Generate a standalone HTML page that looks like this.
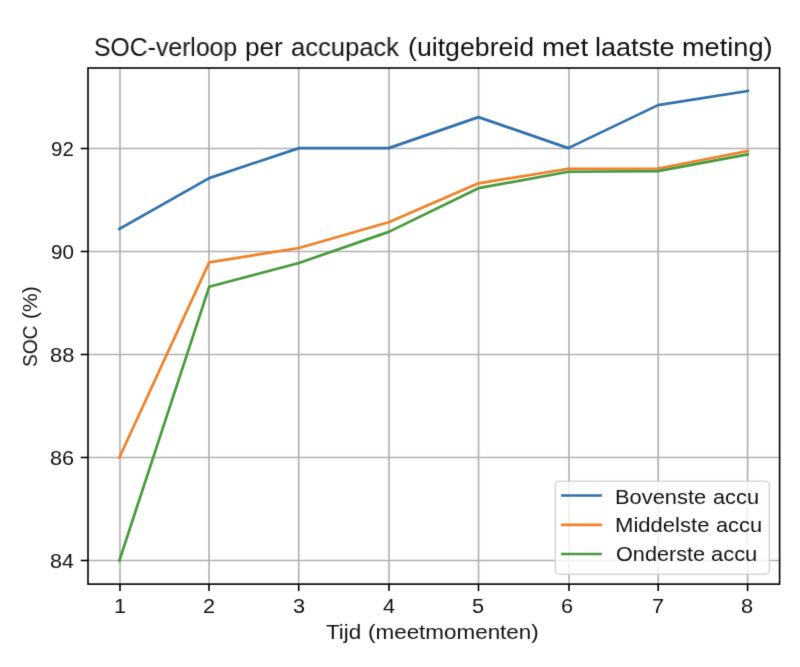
<!DOCTYPE html>
<html><head><meta charset="utf-8"><style>
html,body{margin:0;padding:0;background:#fff;}
body{width:800px;height:667px;position:relative;overflow:hidden;}
#w{position:absolute;left:0;top:0;width:800px;height:667px;background:#fff;filter:url(#soft);}
svg{position:absolute;left:0;top:0;}
.g{stroke:#b0b0b0;stroke-width:1.6;}
.d{fill:none;stroke-width:2.7;stroke-linejoin:round;stroke-linecap:square;}
.b{stroke:#2f70ac;}
.o{stroke:#f08128;}
.gr{stroke:#479a3c;}
.sp{fill:none;stroke:#000;stroke-width:1.6;stroke-linejoin:miter;stroke-linecap:square;}
.tk{stroke:#000;stroke-width:1.6;}
.lg{fill:#fff;fill-opacity:0.8;stroke:#ccc;stroke-opacity:0.8;stroke-width:1.6;}
.t{position:absolute;font-family:"Liberation Sans",sans-serif;line-height:1;white-space:nowrap;color:#111;transform-origin:0 0;will-change:transform;}
</style></head><body>
<svg width="0" height="0" style="position:absolute;left:0;top:0"><filter id="soft" x="0" y="0" width="100%" height="100%" color-interpolation-filters="sRGB"><feConvolveMatrix order="3" kernelMatrix="0.0114 0.0841 0.0114 0.0841 0.6178 0.0841 0.0114 0.0841 0.0114" divisor="1" edgeMode="duplicate" preserveAlpha="true"/></filter></svg>
<div id="w">
<svg width="800" height="667" viewBox="0 0 800 667">
<line x1="120.00" y1="68.0" x2="120.00" y2="584.1" class="g"/>
<line x1="209.00" y1="68.0" x2="209.00" y2="584.1" class="g"/>
<line x1="298.70" y1="68.0" x2="298.70" y2="584.1" class="g"/>
<line x1="389.00" y1="68.0" x2="389.00" y2="584.1" class="g"/>
<line x1="478.50" y1="68.0" x2="478.50" y2="584.1" class="g"/>
<line x1="569.00" y1="68.0" x2="569.00" y2="584.1" class="g"/>
<line x1="658.20" y1="68.0" x2="658.20" y2="584.1" class="g"/>
<line x1="747.60" y1="68.0" x2="747.60" y2="584.1" class="g"/>
<line x1="88.0" y1="560.50" x2="779.6" y2="560.50" class="g"/>
<line x1="88.0" y1="457.50" x2="779.6" y2="457.50" class="g"/>
<line x1="88.0" y1="354.50" x2="779.6" y2="354.50" class="g"/>
<line x1="88.0" y1="251.50" x2="779.6" y2="251.50" class="g"/>
<line x1="88.0" y1="148.50" x2="779.6" y2="148.50" class="g"/>
<polyline points="119.40,229.00 209.17,178.10 298.94,148.10 388.71,148.10 478.48,117.10 568.25,148.10 658.02,105.10 747.79,91.00" class="d b"/>
<polyline points="119.40,457.50 209.17,262.40 298.94,248.00 388.71,222.30 478.48,183.30 568.25,168.75 658.02,168.50 747.79,151.00" class="d o"/>
<polyline points="119.40,560.50 209.17,286.80 298.94,263.00 388.71,231.90 478.48,188.20 568.25,171.75 658.02,171.20 747.79,154.40" class="d gr"/>
<rect x="88.0" y="68.0" width="691.60" height="516.10" class="sp"/>
<line x1="120.00" y1="584.1" x2="120.00" y2="591.10" class="tk"/>
<line x1="209.00" y1="584.1" x2="209.00" y2="591.10" class="tk"/>
<line x1="298.70" y1="584.1" x2="298.70" y2="591.10" class="tk"/>
<line x1="389.00" y1="584.1" x2="389.00" y2="591.10" class="tk"/>
<line x1="478.50" y1="584.1" x2="478.50" y2="591.10" class="tk"/>
<line x1="569.00" y1="584.1" x2="569.00" y2="591.10" class="tk"/>
<line x1="658.20" y1="584.1" x2="658.20" y2="591.10" class="tk"/>
<line x1="747.60" y1="584.1" x2="747.60" y2="591.10" class="tk"/>
<line x1="80.70" y1="560.50" x2="88.0" y2="560.50" class="tk"/>
<line x1="80.70" y1="457.50" x2="88.0" y2="457.50" class="tk"/>
<line x1="80.70" y1="354.50" x2="88.0" y2="354.50" class="tk"/>
<line x1="80.70" y1="251.50" x2="88.0" y2="251.50" class="tk"/>
<line x1="80.70" y1="148.50" x2="88.0" y2="148.50" class="tk"/>
<rect x="555.3" y="481.2" width="214.0" height="93.0" rx="4" ry="4" class="lg"/>
<line x1="562.4" y1="495.5" x2="600.6" y2="495.5" class="d b"/>
<line x1="562.4" y1="524.8" x2="600.6" y2="524.8" class="d o"/>
<line x1="562.4" y1="554.0" x2="600.6" y2="554.0" class="d gr"/>
</svg>
<div class="t" style="left:94.06px;top:34.19px;font-size:26.0px;transform:scaleX(0.9528)">SOC-verloop</div>
<div class="t" style="left:245.07px;top:34.19px;font-size:26.0px;transform:scaleX(1.0068)">per</div>
<div class="t" style="left:290.88px;top:34.19px;font-size:26.0px;transform:scaleX(0.9832)">accupack</div>
<div class="t" style="left:407.80px;top:34.19px;font-size:26.0px;transform:scaleX(1.0268)">(uitgebreid</div>
<div class="t" style="left:541.56px;top:34.19px;font-size:26.0px;transform:scaleX(1.0643)">met</div>
<div class="t" style="left:595.11px;top:34.19px;font-size:26.0px;transform:scaleX(1.0397)">laatste</div>
<div class="t" style="left:682.10px;top:34.19px;font-size:26.0px;transform:scaleX(1.0445)">meting)</div>
<div class="t" style="left:326.45px;top:621.85px;font-size:20.5px;transform:scaleX(1.0935)">Tijd</div>
<div class="t" style="left:367.95px;top:621.85px;font-size:20.5px;transform:scaleX(1.0941)">(meetmomenten)</div>
<div class="t" style="left:19.55px;top:366.96px;font-size:20.5px;transform:rotate(-90deg) scaleX(0.9355)">SOC</div>
<div class="t" style="left:19.55px;top:319.16px;font-size:20.5px;transform:rotate(-90deg) scaleX(1.0268)">(%)</div>
<div class="t" style="left:113.59px;top:595.85px;font-size:20.5px;transform:scaleX(1.0600)">1</div>
<div class="t" style="left:202.77px;top:595.85px;font-size:20.5px;transform:scaleX(1.0600)">2</div>
<div class="t" style="left:292.52px;top:595.85px;font-size:20.5px;transform:scaleX(1.0600)">3</div>
<div class="t" style="left:382.92px;top:595.85px;font-size:20.5px;transform:scaleX(1.0600)">4</div>
<div class="t" style="left:472.22px;top:595.85px;font-size:20.5px;transform:scaleX(1.0600)">5</div>
<div class="t" style="left:561.32px;top:595.85px;font-size:20.5px;transform:scaleX(1.0600)">6</div>
<div class="t" style="left:652.12px;top:595.85px;font-size:20.5px;transform:scaleX(1.0600)">7</div>
<div class="t" style="left:741.42px;top:595.85px;font-size:20.5px;transform:scaleX(1.0600)">8</div>
<div class="t" style="left:49.84px;top:550.65px;font-size:20.5px;transform:scaleX(1.0460)">84</div>
<div class="t" style="left:49.83px;top:447.65px;font-size:20.5px;transform:scaleX(1.0561)">86</div>
<div class="t" style="left:49.83px;top:344.65px;font-size:20.5px;transform:scaleX(1.0656)">88</div>
<div class="t" style="left:50.72px;top:241.65px;font-size:20.5px;transform:scaleX(1.0043)">90</div>
<div class="t" style="left:50.99px;top:138.65px;font-size:20.5px;transform:scaleX(0.9901)">92</div>
<div class="t" style="left:615.25px;top:486.55px;font-size:20.5px;transform:scaleX(1.0662)">Bovenste</div>
<div class="t" style="left:712.53px;top:486.55px;font-size:20.5px;transform:scaleX(1.0634)">accu</div>
<div class="t" style="left:615.23px;top:514.65px;font-size:20.5px;transform:scaleX(1.0767)">Middelste</div>
<div class="t" style="left:715.53px;top:514.65px;font-size:20.5px;transform:scaleX(1.0634)">accu</div>
<div class="t" style="left:615.92px;top:543.75px;font-size:20.5px;transform:scaleX(1.0569)">Onderste</div>
<div class="t" style="left:711.32px;top:543.75px;font-size:20.5px;transform:scaleX(1.0683)">accu</div>
</div></body></html>
